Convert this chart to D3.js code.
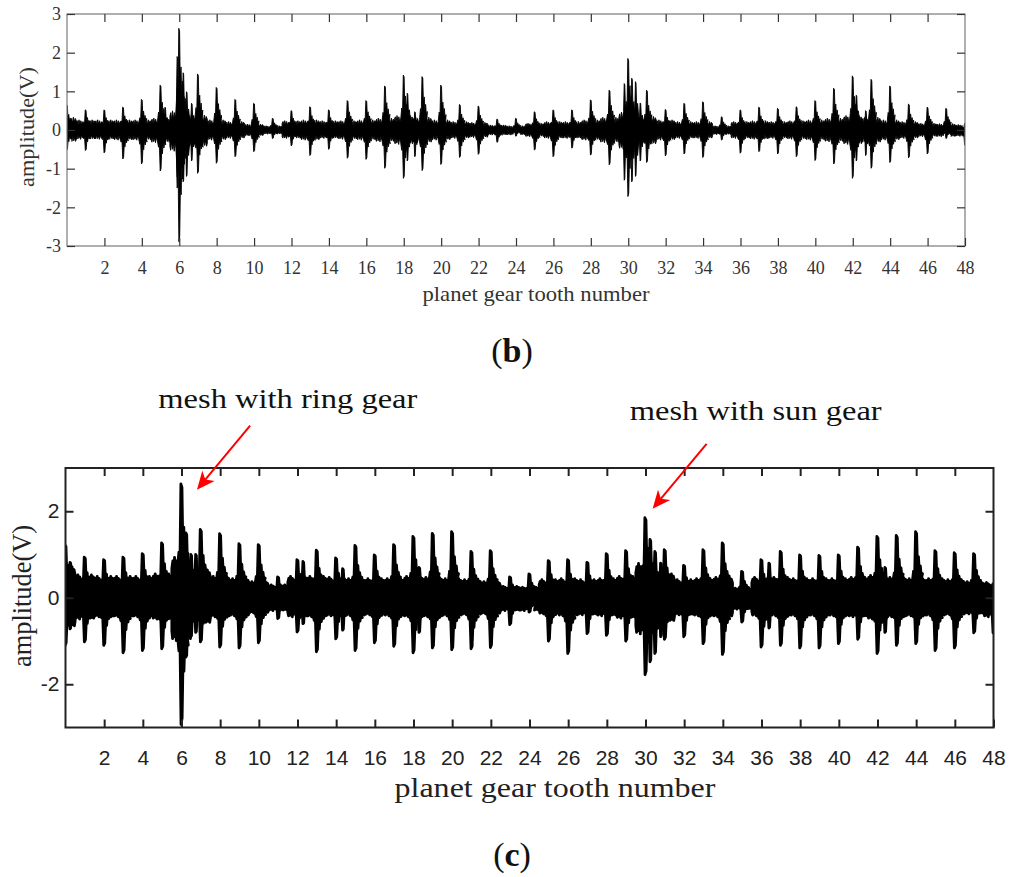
<!DOCTYPE html>
<html>
<head>
<meta charset="utf-8">
<title>planet gear tooth signal</title>
<script src="https://d3js.org/d3.v7.min.js"></script>
<style>
  body { margin: 0; background: #fff; }
  svg { display: block; }
</style>
</head>
<body>
<script>
// tooth index 0..48, burst near every tooth
var teeth = d3.range(0, 49);
var xTickVals = d3.range(2, 49, 2);

// ---- panel (b) : raw signal, peak of each tooth burst (V)
var peakHiB = [0.65,0.52,0.52,0.59,0.79,1.16,2.63,1.45,1.10,0.79,0.69,0.30,0.50,0.60,0.52,0.76,0.76,1.14,1.42,1.38,1.16,0.66,0.62,0.28,0.30,
               0.47,0.52,0.52,0.78,1.03,1.85,1.03,0.53,0.69,0.73,0.34,0.52,0.59,0.56,0.60,0.76,1.08,1.40,1.31,1.14,0.67,0.59,0.56,0.17];
var peakLoB = [-0.52,-0.53,-0.59,-0.75,-0.88,-1.06,-2.89,-1.12,-0.86,-0.69,-0.56,-0.22,-0.41,-0.66,-0.50,-0.73,-0.76,-0.99,-1.25,-1.05,-0.89,-0.71,-0.63,-0.32,-0.16,
               -0.52,-0.69,-0.47,-0.65,-0.90,-1.72,-0.84,-0.67,-0.62,-0.71,-0.26,-0.60,-0.56,-0.62,-0.69,-0.79,-0.88,-1.25,-0.99,-0.84,-0.72,-0.62,-0.22,-0.39];
// background noise level around each tooth
var bandHiB = [0.30,0.24,0.24,0.24,0.24,0.28,0.45,0.35,0.24,0.20,0.14,0.10,0.22,0.24,0.22,0.22,0.24,0.28,0.34,0.30,0.24,0.20,0.18,0.12,0.10,
               0.16,0.20,0.20,0.24,0.30,0.42,0.32,0.24,0.20,0.20,0.10,0.20,0.22,0.20,0.22,0.24,0.28,0.34,0.30,0.24,0.20,0.16,0.15,0.13];
var bandLoB = [-0.28,-0.22,-0.22,-0.24,-0.24,-0.30,-0.50,-0.40,-0.24,-0.20,-0.14,-0.10,-0.20,-0.24,-0.20,-0.22,-0.24,-0.28,-0.34,-0.30,-0.24,-0.20,-0.18,-0.12,-0.12,
               -0.16,-0.20,-0.20,-0.24,-0.30,-0.45,-0.34,-0.24,-0.20,-0.20,-0.11,-0.20,-0.22,-0.20,-0.22,-0.24,-0.28,-0.34,-0.30,-0.24,-0.20,-0.16,-0.16,-0.15];
// secondary bursts [tooth, hi, lo]
var extraB = [[5.25,0.59,-0.30],[5.9,1.90,-1.50],[6.22,1.48,-1.34],[6.4,0.99,-1.20],[6.67,0.69,-0.80],
              [18.2,0.95,-0.80],[18.6,0.47,-0.69],[29.8,1.20,-1.30],[30.2,1.34,-1.34],[30.4,1.25,-1.20],
              [30.65,0.70,-0.80],[42.2,0.90,-0.80],[42.7,0.50,-0.66]];

// ---- panel (c)
var peakHiC = [1.22,0.94,0.88,0.94,1.02,1.27,2.63,1.58,1.48,1.25,1.23,0.48,0.88,1.10,0.92,1.21,0.99,1.23,1.42,1.49,1.53,1.07,1.09,0.48,0.55,
               0.86,0.88,0.82,1.02,1.09,1.85,1.11,0.75,1.11,1.27,0.61,0.88,1.07,0.99,0.98,0.99,1.17,1.42,1.44,1.53,1.09,1.04,1.02,0.32];
var peakLoC = [-1.10,-1.02,-1.10,-1.27,-1.22,-1.18,-2.93,-1.02,-1.14,-1.16,-1.04,-0.48,-0.79,-1.25,-0.95,-1.22,-1.04,-1.12,-1.27,-1.16,-1.20,-1.18,-1.15,-0.62,-0.33,
               -1.00,-1.29,-0.83,-0.87,-1.00,-1.78,-0.96,-0.90,-1.06,-1.31,-0.56,-1.14,-1.10,-1.16,-1.16,-1.06,-0.96,-1.29,-1.10,-1.06,-1.22,-1.16,-0.81,-0.81];
var bandHiC = [0.65,0.48,0.45,0.45,0.45,0.50,0.85,0.58,0.45,0.40,0.34,0.27,0.45,0.45,0.43,0.40,0.40,0.40,0.45,0.43,0.40,0.38,0.34,0.24,0.22,
               0.38,0.40,0.38,0.40,0.45,0.72,0.50,0.38,0.40,0.43,0.20,0.43,0.43,0.40,0.40,0.40,0.43,0.47,0.43,0.40,0.40,0.38,0.34,0.32];
var bandLoC = [-0.62,-0.45,-0.40,-0.40,-0.40,-0.45,-0.90,-0.54,-0.40,-0.38,-0.32,-0.27,-0.40,-0.40,-0.38,-0.38,-0.36,-0.38,-0.40,-0.40,-0.38,-0.36,-0.34,-0.27,-0.27,
               -0.34,-0.38,-0.36,-0.38,-0.43,-0.76,-0.50,-0.36,-0.38,-0.40,-0.24,-0.38,-0.38,-0.38,-0.38,-0.38,-0.40,-0.45,-0.40,-0.38,-0.38,-0.36,-0.34,-0.40];
var extraC = [[0.25,0.82,-0.72],[6.25,1.50,-1.37],[6.5,1.00,-0.90],[6.75,1.00,-0.80],[12.3,0.84,-0.60],
              [14.35,0.67,-0.75],[18.3,0.70,-0.80],[30.25,1.35,-1.48],[30.5,1.07,-1.29],[30.8,0.80,-0.90],
              [36.4,0.80,-0.70],[42.4,0.70,-0.80]];

var serif = '"Liberation Serif", "Times New Roman", Times, serif';
var sans = '"Liberation Sans", Arial, Helvetica, sans-serif';

var svg = d3.select('body').append('svg')
    .attr('width', 1024)
    .attr('height', 877);

// outline of one tooth burst: [tooth offset, share of noise level, share of peak]
var upShape = [[-0.5,0.8,0],[-0.45,1.0,0],[-0.41,0.55,0],[-0.36,1.1,0],[-0.31,0.65,0],[-0.26,1.0,0],[-0.21,0.6,0],
               [-0.16,0.9,0],[-0.12,0.6,0.1],[-0.085,0,0.4],[-0.05,0,0.32],[-0.02,0,1],[0.015,0,0.97],[0.04,0,0.5],
               [0.075,0,0.62],[0.105,0,0.35],[0.135,0,0.48],[0.17,0.5,0.16],[0.205,0.4,0.26],[0.245,1.0,0],[0.29,0.6,0],
               [0.34,1.1,0],[0.39,0.7,0],[0.44,1.0,0],[0.5,0.8,0]];
var dnShape = [[-0.5,0.85,0],[-0.46,1.05,0],[-0.42,0.6,0],[-0.37,1.0,0],[-0.32,0.7,0],[-0.27,1.1,0],[-0.22,0.6,0],
               [-0.17,0.95,0],[-0.125,0.6,0.12],[-0.085,0,0.42],[-0.05,0,0.33],[-0.015,0,1],[0.02,0,0.95],[0.05,0,0.48],
               [0.08,0,0.58],[0.11,0,0.32],[0.145,0,0.44],[0.18,0.6,0.12],[0.22,0.5,0.22],[0.26,1.05,0],[0.31,0.6,0],
               [0.36,1.0,0],[0.41,0.7,0],[0.46,1.05,0],[0.5,0.85,0]];
var spikeShape = [[-0.1,0],[-0.04,0.4],[-0.012,1],[0.012,0.97],[0.04,0.45],[0.08,0.55],[0.13,0.25],[0.2,0]];

function drawPanel(p) {
    var x = d3.scaleLinear().domain([0, 48]).range([p.left, p.right]);
    var y = d3.scaleLinear().domain([-3, 3]).range([p.bottom, p.top]);
    var g = svg.append('g');

    g.append('clipPath').attr('id', p.id + 'clip')
      .append('rect')
      .attr('x', p.left).attr('y', p.top)
      .attr('width', p.right - p.left).attr('height', p.bottom - p.top);

    var plot = g.append('g').attr('clip-path', 'url(#' + p.id + 'clip)');

    var line = d3.line()
        .x(function(d) { return x(d[0]); })
        .y(function(d) { return y(d[1]); });

    // widen the burst body (points that follow the peak) for this panel
    function off(s) { return s[2] > 0 ? s[0] * p.spread : s[0]; }

    // upper and lower outline of the signal, tooth by tooth
    var upper = [], lower = [];
    teeth.forEach(function(t, i) {
        upShape.forEach(function(s) {
            upper.push([t + off(s), s[1] * p.bandHi[i] + s[2] * p.hi[i]]);
        });
        dnShape.forEach(function(s) {
            lower.push([t + off(s), s[1] * p.bandLo[i] + s[2] * p.lo[i]]);
        });
    });
    var outline = upper.concat(lower.reverse());

    plot.append('path')
        .attr('d', line(outline) + 'Z')
        .attr('fill', '#000')
        .attr('stroke', '#000')
        .attr('stroke-width', p.sw)
        .attr('stroke-linejoin', 'round');

    // thin core line through zero
    plot.append('line')
        .attr('x1', p.left).attr('x2', p.right)
        .attr('y1', y(0)).attr('y2', y(0))
        .attr('stroke', '#000').attr('stroke-width', 2);

    p.extra.forEach(function(b) {
        [b[1], b[2]].forEach(function(v) {
            var pts = spikeShape.map(function(s) { return [b[0] + s[0] * p.spread, v * s[1]]; });
            plot.append('path')
                .attr('d', line(pts) + 'Z')
                .attr('fill', '#000')
                .attr('stroke', '#000')
                .attr('stroke-width', p.sw)
                .attr('stroke-linejoin', 'round');
        });
    });

    // frame
    g.append('rect')
        .attr('x', p.left).attr('y', p.top)
        .attr('width', p.right - p.left).attr('height', p.bottom - p.top)
        .attr('fill', 'none')
        .attr('stroke', p.frame)
        .attr('stroke-width', p.fw);

    var xb = d3.axisBottom(x).tickValues(xTickVals).tickSizeInner(-p.tick).tickSizeOuter(0).tickPadding(p.xPad);
    var xt = d3.axisTop(x).tickValues(xTickVals.slice(0, -1)).tickSizeInner(-p.tick).tickSizeOuter(0).tickFormat('');
    var yl = d3.axisLeft(y).tickValues(p.yTicks).tickSizeInner(-p.tick).tickSizeOuter(0).tickPadding(p.yPad).tickFormat(d3.format('d'));
    var yr = d3.axisRight(y).tickValues(p.yTicks).tickSizeInner(-p.tick).tickSizeOuter(0).tickFormat('');

    var axes = [
        g.append('g').attr('transform', 'translate(0,' + p.bottom + ')').call(xb),
        g.append('g').attr('transform', 'translate(0,' + p.top + ')').call(xt),
        g.append('g').attr('transform', 'translate(' + p.left + ',0)').call(yl),
        g.append('g').attr('transform', 'translate(' + p.right + ',0)').call(yr)
    ];
    axes.forEach(function(a) {
        a.attr('font-family', null);
        a.select('.domain').remove();
        a.selectAll('line').attr('stroke', p.tickColor).attr('stroke-width', p.fw);
        a.selectAll('text')
            .attr('fill', p.textColor)
            .style('font-family', p.tickFont)
            .style('font-size', p.tickSize + 'px');
    });
    axes[0].selectAll('text').attr('dy', null).attr('y', p.xPad);
    axes[2].selectAll('text').text(function(d) { return d < 0 ? '-' + Math.abs(d) : d; });

    g.append('text')
        .attr('x', p.xLabel[0]).attr('y', p.xLabel[1])
        .attr('text-anchor', 'middle')
        .attr('textLength', p.xLabel[2])
        .attr('lengthAdjust', 'spacingAndGlyphs')
        .attr('fill', p.textColor)
        .style('font-family', serif)
        .style('font-size', p.labelSize + 'px')
        .text('planet gear tooth number');

    g.append('text')
        .attr('transform', 'translate(' + p.yLabel[0] + ',' + p.yLabel[1] + ') rotate(-90)')
        .attr('text-anchor', 'middle')
        .attr('textLength', p.yLabel[2])
        .attr('lengthAdjust', 'spacingAndGlyphs')
        .attr('fill', p.textColor)
        .style('font-family', serif)
        .style('font-size', p.yLabelSize + 'px')
        .text('amplitude(V)');

    return {x: x, y: y};
}

drawPanel({
    id: 'b', left: 67, right: 965, top: 14, bottom: 246,
    hi: peakHiB, lo: peakLoB, bandHi: bandHiB, bandLo: bandLoB, extra: extraB,
    sw: 0.9, spread: 1.25, frame: '#7a7a7a', tickColor: '#333', fw: 1.2, tick: 8,
    yTicks: [-3, -2, -1, 0, 1, 2, 3],
    tickFont: serif, tickSize: 18, textColor: '#333', xPad: 28, yPad: 6,
    xLabel: [536, 301, 227], labelSize: 22,
    yLabel: [34, 127, 120], yLabelSize: 22
});

var c = drawPanel({
    id: 'c', left: 65.5, right: 993.5, top: 468, bottom: 727.5,
    hi: peakHiC, lo: peakLoC, bandHi: bandHiC, bandLo: bandLoC, extra: extraC,
    sw: 2.8, spread: 1.6, frame: '#222', tickColor: '#222', fw: 2, tick: 8,
    yTicks: [-2, 0, 2],
    tickFont: sans, tickSize: 21, textColor: '#222', xPad: 37, yPad: 6,
    xLabel: [555, 797, 321], labelSize: 27,
    yLabel: [31, 596, 142], yLabelSize: 27
});

// panel captions
[['b', 362], ['c', 866]].forEach(function(cap) {
    svg.append('text').attr('x', 512).attr('y', cap[1]).attr('text-anchor', 'middle')
        .style('font-family', serif).style('font-size', '34px').attr('fill', '#111')
        .html('(<tspan font-weight="bold">' + cap[0] + '</tspan>)');
});

// annotations on panel (c), given in tooth / volt units
var notes = [
    {text: 'mesh with ring gear', tx: 11.5, ty: 4.38, w: 259, x1: 9.55, y1: 3.98, x2: 6.8, y2: 2.5},
    {text: 'mesh with sun gear', tx: 35.7, ty: 4.1, w: 252, x1: 33.16, y1: 3.56, x2: 30.37, y2: 2.06}
];

notes.forEach(function(n) {
    svg.append('text')
        .attr('x', c.x(n.tx)).attr('y', c.y(n.ty))
        .attr('text-anchor', 'middle')
        .attr('textLength', n.w)
        .attr('lengthAdjust', 'spacingAndGlyphs')
        .attr('fill', '#111')
        .style('font-family', serif)
        .style('font-size', '27px')
        .text(n.text);

    var ax1 = c.x(n.x1), ay1 = c.y(n.y1), ax2 = c.x(n.x2), ay2 = c.y(n.y2);
    var ang = Math.atan2(ay2 - ay1, ax2 - ax1) * 180 / Math.PI;
    var len = Math.hypot(ax2 - ax1, ay2 - ay1);
    var a = svg.append('g').attr('transform', 'translate(' + ax1 + ',' + ay1 + ') rotate(' + ang + ')');
    a.append('line')
        .attr('x1', 0).attr('y1', 0).attr('x2', len - 12).attr('y2', 0)
        .attr('stroke', '#f00').attr('stroke-width', 2);
    a.append('path')
        .attr('d', 'M' + len + ',0 L' + (len - 18) + ',-8 L' + (len - 13) + ',0 L' + (len - 18) + ',8 Z')
        .attr('fill', '#f00');
});
</script>
</body>
</html>
